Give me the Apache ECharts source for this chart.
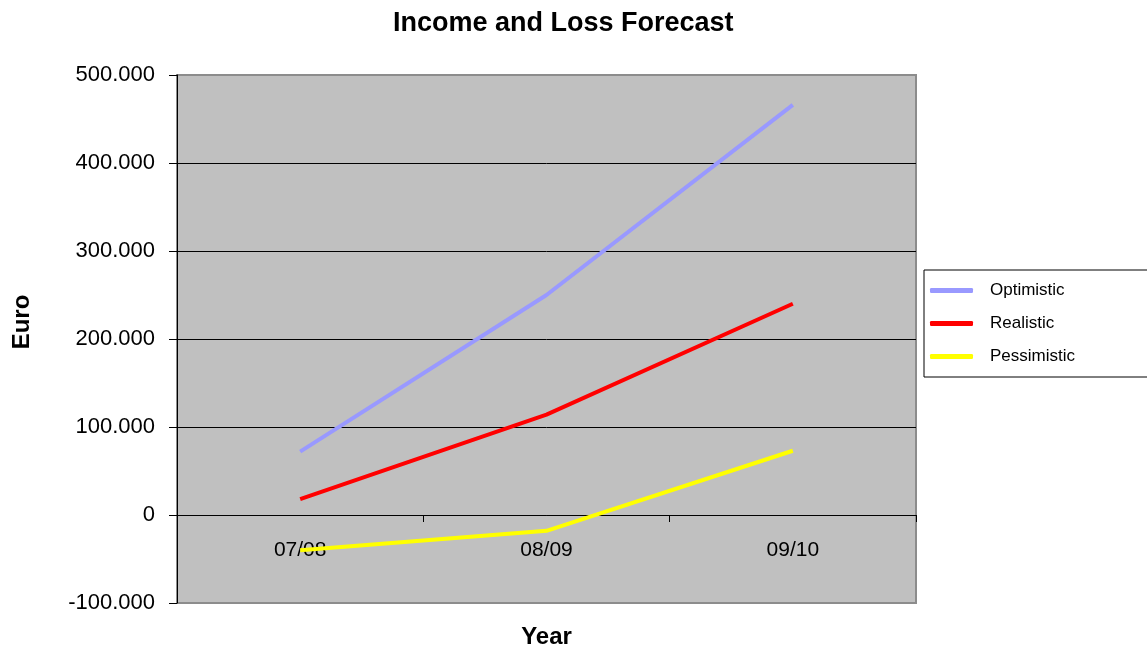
<!DOCTYPE html>
<html lang="en">
<head>
<meta charset="UTF-8" />
<title>Income and Loss Forecast</title>
<style>
  * { margin: 0; padding: 0; box-sizing: border-box; }
  html, body { background: #fff; }
  #chart { width: 1147px; height: 654px; }
</style>
</head>
<body>
<div id="chart"></div>
<script src="https://cdn.jsdelivr.net/npm/echarts@6/dist/echarts.min.js"></script>
<script>
// data
var years = ['07/08', '08/09', '09/10'];
var optimistic = [72000, 250000, 466000];
var realistic = [18000, 114000, 240000];
var pessimistic = [-40000, -18000, 73000];

var font = '"Liberation Sans", Arial, sans-serif';

// 500000 -> 500.000
function euro(v) {
  var s = String(Math.abs(v)).replace(/\B(?=(\d{3})+(?!\d))/g, '.');
  return (v < 0 ? '-' : '') + s;
}

function lineSeries(name, data, color) {
  return {
    name: name,
    type: 'line',
    data: data,
    symbol: 'none',
    lineStyle: { color: color, width: 4 },
    itemStyle: { color: color }
  };
}

var chart = echarts.init(document.getElementById('chart'));
chart.setOption({
  animation: false,
  textStyle: { fontFamily: font },
  title: {
    text: 'Income and Loss Forecast',
    left: 388,
    top: 5,
    textStyle: { fontSize: 27, fontWeight: 'bold', color: '#000', fontFamily: font }
  },
  legend: {
    orient: 'vertical',
    left: 924,
    top: 270,
    padding: [12, 100, 12, 6],
    itemGap: 16,
    itemWidth: 43,
    itemHeight: 5,
    icon: 'roundRect',
    backgroundColor: '#fff',
    borderColor: '#000',
    borderWidth: 1,
    textStyle: { fontSize: 17, color: '#000', padding: [0, 0, 0, 12] },
    data: ['Optimistic', 'Realistic', 'Pessimistic']
  },
  grid: {
    left: 177,
    right: 231,
    top: 75,
    bottom: 51,
    outerBoundsMode: 'none',
    containLabel: false,
    show: true,
    backgroundColor: '#c0c0c0',
    borderColor: '#8c8c8c',
    borderWidth: 2
  },
  xAxis: {
    type: 'category',
    data: years,
    position: 'bottom',
    // axis sits on the zero line, 88px above the grid bottom
    offset: -88,
    name: 'Year',
    nameLocation: 'middle',
    nameGap: 110,
    nameTextStyle: { fontSize: 24, fontWeight: 'bold', color: '#000' },
    axisLine: { onZero: false, lineStyle: { color: '#000', width: 1 } },
    axisTick: { show: true, length: 7, lineStyle: { color: '#000' } },
    axisLabel: { fontSize: 21, color: '#000', margin: 25 }
  },
  yAxis: {
    type: 'value',
    min: -100000,
    max: 500000,
    interval: 100000,
    name: 'Euro',
    nameLocation: 'middle',
    nameGap: 143,
    nameTextStyle: { fontSize: 24, fontWeight: 'bold', color: '#000', padding: [0, 0, 0, 34] },
    axisLine: { show: true, lineStyle: { color: '#000', width: 1 } },
    axisTick: { show: true, length: 8, lineStyle: { color: '#000' } },
    axisLabel: { fontSize: 22, color: '#000', margin: 22, formatter: euro },
    splitLine: { show: true, showMinLine: false, showMaxLine: false, lineStyle: { color: '#000', width: 1 } }
  },
  series: [
    lineSeries('Optimistic', optimistic, '#9999ff'),
    lineSeries('Realistic', realistic, '#ff0000'),
    lineSeries('Pessimistic', pessimistic, '#ffff00')
  ]
});
</script>
</body>
</html>
